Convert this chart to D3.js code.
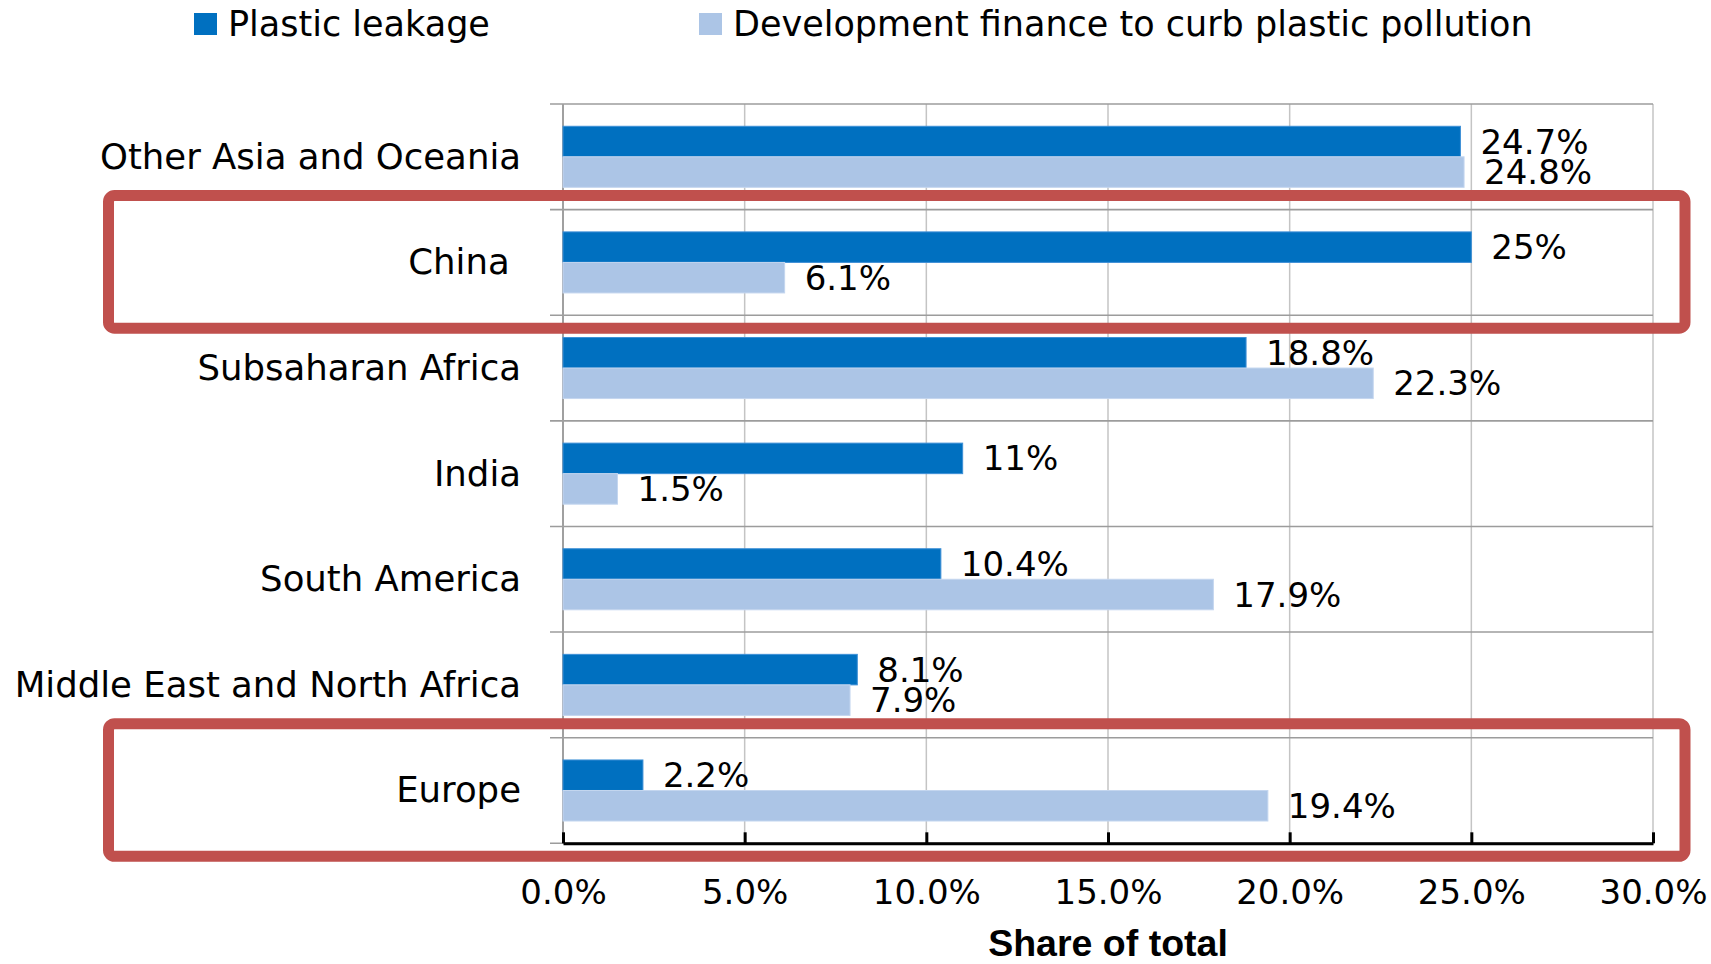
<!DOCTYPE html>
<html>
<head>
<meta charset="utf-8">
<script src="https://cdn.jsdelivr.net/npm/d3@7"></script>
<style>
  html, body { margin: 0; padding: 0; background: #fff; }
  svg { display: block; }
  text { font-family: "DejaVu Sans", sans-serif; fill: #000; }
</style>
</head>
<body>
<svg id="chart" width="1711" height="964"></svg>
<script>
// Regions, top to bottom
const regions = [
  "Other Asia and Oceania",
  "China\u00a0",
  "Subsaharan Africa",
  "India",
  "South America",
  "Middle East and North Africa",
  "Europe"
];
// Share of total (%) per region
const plasticLeakage = [24.7, 25, 18.8, 11, 10.4, 8.1, 2.2];
const devFinance     = [24.8, 6.1, 22.3, 1.5, 17.9, 7.9, 19.4];

const seriesNames  = ["Plastic leakage", "Development finance to curb plastic pollution"];
const seriesColors = ["#0070C0", "#ACC5E6"];
const seriesEdges  = ["#3d8fd6", "#c4d6ef"];

const xTicks = [0, 5, 10, 15, 20, 25, 30];
const xTitle = "Share of total";

// Regions outlined in red
const highlighted = ["China\u00a0", "Europe"];

const svg = d3.select("#chart");

const plotLeft = 563, plotRight = 1653, plotTop = 104, plotBottom = 843.3;

const x = d3.scaleLinear().domain([0, 30]).range([plotLeft, plotRight]);
const y = d3.scaleBand().domain(regions).range([plotTop, plotBottom]).paddingInner(0).paddingOuter(0);
const ySub = d3.scaleBand().domain([0, 1]).range([0, y.bandwidth()]).paddingInner(0).paddingOuter(0.73);

// Vertical gridlines
svg.append("g").selectAll("line")
  .data(xTicks.filter(t => t > 0))
  .join("line")
  .attr("x1", d => x(d)).attr("x2", d => x(d))
  .attr("y1", plotTop).attr("y2", plotBottom)
  .attr("stroke", "#c4c4c4").attr("stroke-width", 1.5);

// Category separators (with short ticks left of the axis)
const bounds = regions.map(r => y(r)).concat([plotBottom]);
svg.append("g").selectAll("line")
  .data(bounds)
  .join("line")
  .attr("x1", plotLeft - 13).attr("x2", plotRight)
  .attr("y1", d => d).attr("y2", d => d)
  .attr("stroke", "#9c9c9c").attr("stroke-width", 1.6);

// Vertical category axis line
svg.append("line")
  .attr("x1", plotLeft).attr("x2", plotLeft)
  .attr("y1", plotTop).attr("y2", plotBottom)
  .attr("stroke", "#a0a0a0").attr("stroke-width", 2);

// Bars
const rows = regions.map((r, i) => ({ region: r, values: [plasticLeakage[i], devFinance[i]] }));
const groups = svg.append("g").selectAll("g")
  .data(rows)
  .join("g")
  .attr("transform", d => `translate(0,${y(d.region)})`);

groups.selectAll("rect")
  .data(d => d.values.map((v, s) => ({ v, s })))
  .join("rect")
  .attr("x", x(0))
  .attr("y", d => ySub(d.s))
  .attr("width", d => x(d.v) - x(0))
  .attr("height", ySub.bandwidth())
  .attr("fill", d => seriesColors[d.s])
  .attr("stroke", d => seriesEdges[d.s])
  .attr("stroke-width", 1);

// Value labels
groups.selectAll("text.val")
  .data(d => d.values.map((v, s) => ({ v, s })))
  .join("text")
  .attr("class", "val")
  .attr("x", d => x(d.v) + 20)
  .attr("y", d => ySub(d.s) + ySub.bandwidth() / 2 + 12)
  .attr("font-size", 34)
  .text(d => `${d.v}%`);

// Category labels
svg.append("g").selectAll("text")
  .data(regions)
  .join("text")
  .attr("x", plotLeft - 42)
  .attr("y", d => y(d) + y.bandwidth() / 2 + 12)
  .attr("text-anchor", "end")
  .attr("font-size", 35.5)
  .style("white-space", "pre")
  .text(d => d);

// Bottom value axis
const xAxis = d3.axisBottom(x)
  .tickValues(xTicks)
  .tickSizeInner(-11)
  .tickSizeOuter(0)
  .tickPadding(37)
  .tickFormat(d => d3.format(".1f")(d) + "%");

const ax = svg.append("g")
  .attr("transform", `translate(0,${plotBottom})`)
  .call(xAxis);
ax.select(".domain").attr("stroke", "#000").attr("stroke-width", 3);
ax.selectAll(".tick line").attr("stroke", "#000").attr("stroke-width", 3);
ax.selectAll(".tick text")
  .attr("font-family", "DejaVu Sans, sans-serif")
  .attr("font-size", 34)
  .attr("fill", "#000");

// Axis title
svg.append("text")
  .attr("x", (plotLeft + plotRight) / 2)
  .attr("y", 956)
  .attr("text-anchor", "middle")
  .style("font-family", "'Liberation Sans', Arial, sans-serif")
  .attr("font-weight", "bold")
  .attr("font-size", 37.5)
  .text(xTitle);

// Legend
const legendX = [194, 699];
const legend = svg.append("g").selectAll("g")
  .data(seriesNames)
  .join("g")
  .attr("transform", (d, i) => `translate(${legendX[i]},0)`);
legend.append("rect")
  .attr("x", 0).attr("y", 13)
  .attr("width", 23).attr("height", 22)
  .attr("fill", (d, i) => seriesColors[i]);
legend.append("text")
  .attr("x", 34).attr("y", 36)
  .attr("font-size", 35)
  .text(d => d);

// Red highlight frames
svg.append("g").selectAll("rect")
  .data(highlighted)
  .join("rect")
  .attr("x", 108.5)
  .attr("y", d => y(d) - 14)
  .attr("width", 1685 - 108.5)
  .attr("height", y.bandwidth() + 27)
  .attr("rx", 6)
  .attr("fill", "none")
  .attr("stroke", "#C0504D")
  .attr("stroke-width", 11);
</script>
</body>
</html>
